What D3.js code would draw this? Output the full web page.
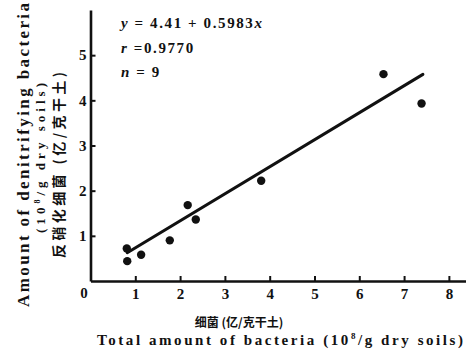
<!DOCTYPE html>
<html>
<head>
<meta charset="utf-8">
<script src="https://cdn.jsdelivr.net/npm/d3@7"></script>
<style>
  body { margin: 0; background: #fff; }
  svg { display: block; }
  text { font-family: "Liberation Serif", "Noto Sans CJK SC", serif; font-weight: bold; fill: #111; }
  .cjk { font-family: "Noto Sans CJK SC", sans-serif; }
</style>
</head>
<body>
<svg id="chart" width="466" height="353"></svg>
<script>
// Total bacteria (10^8/g) vs denitrifying bacteria (10^8/g)
const bacteriaX = [0.81, 0.82, 1.13, 1.77, 2.17, 2.35, 3.81, 6.54, 7.39];
const denitrY   = [0.72, 0.44, 0.58, 0.90, 1.68, 1.36, 2.22, 4.58, 3.93];

// fitted line drawn in the figure (start / end on x)
const fitX = [0.82, 7.42];
const fitIntercept = 0.135;
const fitSlope = 0.5983;

const xTicks = [1, 2, 3, 4, 5, 6, 7, 8];
const yTicks = [1, 2, 3, 4, 5];
// [italic symbol, rest, italic symbol]
const statLines = [["y", " = 4.41 + 0.5983", "x"], ["r", " =0.9770", ""], ["n", " = 9", ""]];

const svg = d3.select("#chart");

const x = d3.scaleLinear().domain([0, 8.4]).range([90.5, 466.8]);
const y = d3.scaleLinear().domain([0, 6]).range([281, 10]);

// Axes
const xAxis = svg.append("g")
    .attr("transform", `translate(0, ${y(0)})`)
    .call(d3.axisBottom(x).tickValues(xTicks).tickFormat(d3.format("d"))
        .tickSize(-5).tickSizeOuter(0).tickPadding(7));

const yAxis = svg.append("g")
    .attr("transform", `translate(${x(0)}, 0)`)
    .call(d3.axisLeft(y).tickValues(yTicks).tickFormat(d3.format("d"))
        .tickSize(-5).tickSizeOuter(0).tickPadding(4));

[xAxis, yAxis].forEach(g => {
    g.select(".domain").attr("stroke", "#111").attr("stroke-width", 2.6);
    g.selectAll(".tick line").attr("stroke", "#111").attr("stroke-width", 2);
    g.selectAll(".tick text")
        .style("font-family", "Liberation Serif")
        .style("font-weight", "bold")
        .style("font-size", "15px")
        .attr("fill", "#111");
});

// origin label
svg.append("text")
    .attr("x", 84)
    .attr("y", 298)
    .attr("text-anchor", "middle")
    .style("font-size", "15px")
    .text("0");

// Regression line
svg.append("line")
    .attr("x1", x(fitX[0]))
    .attr("y1", y(fitIntercept + fitSlope * fitX[0]))
    .attr("x2", x(fitX[1]))
    .attr("y2", y(fitIntercept + fitSlope * fitX[1]))
    .attr("stroke", "#111")
    .attr("stroke-width", 3)
    .attr("stroke-linecap", "round");

// Points
svg.selectAll("circle.pt")
    .data(bacteriaX)
    .enter()
    .append("circle")
    .attr("class", "pt")
    .attr("cx", d => x(d))
    .attr("cy", (d, i) => y(denitrY[i]))
    .attr("r", 4.2)
    .attr("fill", "#111");

// Stats text
const stats = svg.selectAll("text.stat")
    .data(statLines)
    .enter()
    .append("text")
    .attr("class", "stat")
    .attr("x", 121)
    .attr("y", (d, i) => 28 + i * 24.5)
    .style("font-size", "15px")
    .style("letter-spacing", "1.6px");
stats.append("tspan").style("font-style", "italic").text(d => d[0]);
stats.append("tspan").text(d => d[1]);
stats.append("tspan").style("font-style", "italic").text(d => d[2]);

// X axis titles
svg.append("text")
    .attr("class", "cjk")
    .attr("x", 239)
    .attr("y", 327)
    .attr("text-anchor", "middle")
    .style("font-size", "12px")
    .text("细菌 (亿/克干土)");

const xTitle = svg.append("text")
    .attr("x", 97)
    .attr("y", 345)
    .attr("textLength", 366)
    .attr("lengthAdjust", "spacing")
    .style("font-size", "15px");
xTitle.append("tspan").text("Total amount of bacteria (10");
xTitle.append("tspan").attr("dy", -6).style("font-size", "9px").text("8");
xTitle.append("tspan").attr("dy", 6).text("/g dry soils)");

// Y axis titles (rotated)
const yTitle = svg.append("g").attr("transform", "rotate(-90)");

yTitle.append("text")
    .attr("x", -307)
    .attr("y", 29)
    .attr("textLength", 304)
    .attr("lengthAdjust", "spacing")
    .style("font-size", "17px")
    .text("Amount of denitrifying bacteria");

const ySub = yTitle.append("text")
    .attr("x", -233)
    .attr("y", 45)
    .attr("textLength", 150)
    .attr("lengthAdjust", "spacing")
    .style("font-size", "13px");
ySub.append("tspan").text("(10");
ySub.append("tspan").attr("dy", -5).style("font-size", "8px").text("8");
ySub.append("tspan").attr("dy", 5).text("/g dry soils)");

yTitle.append("text")
    .attr("class", "cjk")
    .attr("x", -258)
    .attr("y", 64)
    .attr("textLength", 186)
    .attr("lengthAdjust", "spacing")
    .style("font-size", "14px")
    .text("反硝化细菌 (亿/克干土)");
</script>
</body>
</html>
